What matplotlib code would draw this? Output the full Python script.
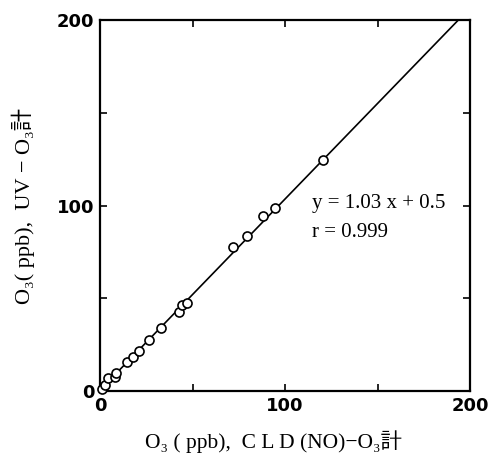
import numpy as np
import matplotlib.pyplot as plt

# data (ppb)
cld_o3 = [0.8, 2.5, 4.5, 8.1, 8.6, 14.4, 18.0, 21.2, 26.6, 33.0,
          42.9, 44.2, 46.8, 72.1, 79.3, 88.3, 94.6, 120.7]
uv_o3 = [1.0, 3.5, 6.8, 7.7, 9.9, 15.8, 18.1, 21.7, 27.5, 33.8,
         42.7, 46.4, 47.6, 77.5, 83.6, 94.3, 98.5, 124.5]
slope = 1.03
intercept = 0.5
r_value = 0.999

tick_pos = [0, 50, 100, 150, 200]
tick_lab = ['0', '', '100', '', '200']

serif = ['Liberation Serif', 'DejaVu Serif', 'Noto Sans CJK JP']

fig = plt.figure(figsize=(4.92, 4.68), dpi=100)
ax = fig.add_axes([0.2033, 0.1645, 0.752, 0.7927])

xl = np.array([0, 200])
ax.plot(xl, slope * xl + intercept, color='black', lw=1.2, zorder=2)
ax.plot(cld_o3, uv_o3, 'o', ms=6.5, mfc='white', mec='black', mew=1.2,
        zorder=3, clip_on=False)

ax.set_xlim(0, 200)
ax.set_ylim(0, 200)
ax.set_xticks(tick_pos)
ax.set_yticks(tick_pos)
ax.set_xticklabels(tick_lab, fontsize=13, fontweight='bold')
ax.set_yticklabels(tick_lab, fontsize=13, fontweight='bold')
ax.tick_params(direction='in', length=5, width=1.2, top=True, right=True, pad=4)
for s in ax.spines.values():
    s.set_linewidth(1.6)

ax.text(114.6, 101.3, 'y = %.2f x + %.1f' % (slope, intercept),
        family=serif, fontsize=15, va='center')
ax.text(114.6, 85.2, 'r = %.3f' % r_value,
        family=serif, fontsize=15, va='center')

ax.set_xlabel('O\u2083 ( ppb),  C L D (NO)\u2212O\u2083計', family=serif,
              fontsize=15.5)
ax.set_ylabel('O\u2083( ppb),  UV \u2212 O\u2083計', family=serif,
              fontsize=16, labelpad=16)
ax.xaxis.set_label_coords(0.47, -0.105)

plt.savefig('out.png', dpi=100)
plt.close()
